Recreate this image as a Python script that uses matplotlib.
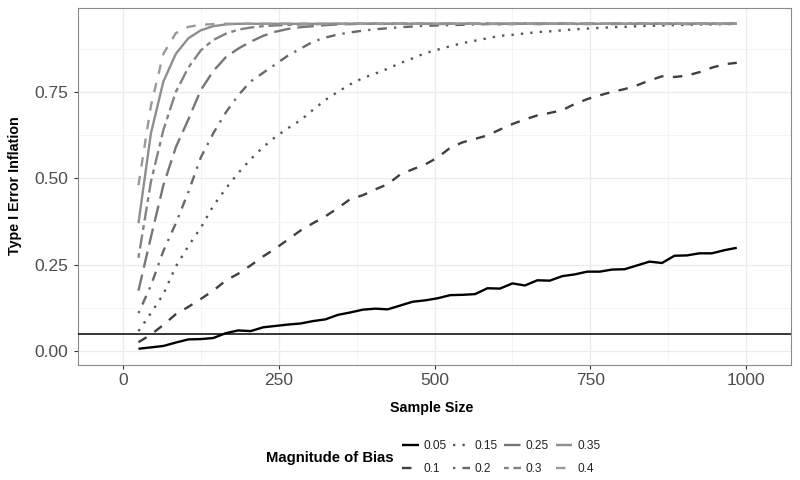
import matplotlib
matplotlib.use('Agg')
import matplotlib.pyplot as plt

plt.rcParams['font.family'] = ['Liberation Sans', 'DejaVu Sans']

sample_size = [25, 45, 65, 85, 105, 125, 145, 165, 185, 205,
               225, 245, 265, 285, 305, 325, 345, 365, 385, 405,
               425, 445, 465, 485, 505, 525, 545, 565, 585, 605,
               625, 645, 665, 685, 705, 725, 745, 765, 785, 805,
               825, 845, 865, 885, 905, 925, 945, 965, 985]

bias_labels = ['0.05', '0.1', '0.15', '0.2', '0.25', '0.3', '0.35', '0.4']

err_005 = [0.007, 0.011, 0.015, 0.025, 0.034, 0.035, 0.038, 0.052, 0.060, 0.058,
           0.069, 0.073, 0.077, 0.080, 0.087, 0.092, 0.105, 0.112, 0.120, 0.123,
           0.121, 0.132, 0.143, 0.147, 0.153, 0.162, 0.163, 0.165, 0.182, 0.181,
           0.196, 0.190, 0.205, 0.204, 0.217, 0.222, 0.230, 0.230, 0.236, 0.237,
           0.248, 0.259, 0.255, 0.276, 0.277, 0.283, 0.283, 0.292, 0.299]
err_010 = [0.026, 0.048, 0.076, 0.107, 0.128, 0.151, 0.175, 0.204, 0.224, 0.248,
           0.274, 0.297, 0.323, 0.349, 0.370, 0.390, 0.414, 0.440, 0.451, 0.468,
           0.483, 0.511, 0.526, 0.540, 0.560, 0.588, 0.604, 0.614, 0.624, 0.641,
           0.657, 0.670, 0.682, 0.689, 0.697, 0.715, 0.729, 0.740, 0.750, 0.758,
           0.769, 0.783, 0.795, 0.793, 0.797, 0.807, 0.820, 0.830, 0.834]
err_015 = [0.058, 0.110, 0.165, 0.245, 0.304, 0.357, 0.420, 0.470, 0.515, 0.555,
           0.590, 0.620, 0.645, 0.668, 0.698, 0.727, 0.750, 0.772, 0.790, 0.803,
           0.817, 0.833, 0.847, 0.862, 0.872, 0.882, 0.891, 0.898, 0.905, 0.912,
           0.915, 0.919, 0.923, 0.925, 0.928, 0.931, 0.933, 0.935, 0.937, 0.938,
           0.940, 0.941, 0.942, 0.943, 0.944, 0.945, 0.945, 0.946, 0.946]
err_020 = [0.110, 0.190, 0.290, 0.370, 0.460, 0.560, 0.630, 0.690, 0.740, 0.780,
           0.805, 0.830, 0.855, 0.875, 0.895, 0.907, 0.916, 0.922, 0.927, 0.931,
           0.934, 0.937, 0.939, 0.941, 0.942, 0.943, 0.944, 0.945, 0.946, 0.946,
           0.946, 0.947, 0.946, 0.947, 0.947, 0.946, 0.947, 0.947, 0.946, 0.947,
           0.947, 0.947, 0.946, 0.947, 0.947, 0.947, 0.946, 0.947, 0.947]
err_025 = [0.175, 0.330, 0.480, 0.590, 0.670, 0.755, 0.810, 0.850, 0.875, 0.895,
           0.912, 0.924, 0.932, 0.937, 0.940, 0.943, 0.945, 0.946, 0.947, 0.947,
           0.946, 0.947, 0.947, 0.947, 0.946, 0.947, 0.947, 0.947, 0.947, 0.946,
           0.947, 0.947, 0.947, 0.947, 0.947, 0.947, 0.946, 0.947, 0.947, 0.947,
           0.947, 0.947, 0.947, 0.947, 0.946, 0.947, 0.947, 0.947, 0.947]
err_030 = [0.270, 0.490, 0.640, 0.750, 0.820, 0.870, 0.900, 0.918, 0.930, 0.936,
           0.940, 0.942, 0.944, 0.945, 0.946, 0.946, 0.947, 0.947, 0.947, 0.947,
           0.947, 0.947, 0.947, 0.947, 0.947, 0.947, 0.947, 0.947, 0.947, 0.947,
           0.947, 0.947, 0.947, 0.947, 0.947, 0.947, 0.947, 0.947, 0.947, 0.947,
           0.947, 0.947, 0.947, 0.947, 0.947, 0.947, 0.947, 0.947, 0.947]
err_035 = [0.370, 0.630, 0.780, 0.860, 0.905, 0.928, 0.940, 0.945, 0.947, 0.947,
           0.947, 0.947, 0.947, 0.947, 0.947, 0.947, 0.947, 0.947, 0.947, 0.947,
           0.947, 0.947, 0.947, 0.947, 0.947, 0.947, 0.947, 0.947, 0.947, 0.947,
           0.947, 0.947, 0.947, 0.947, 0.947, 0.947, 0.947, 0.947, 0.947, 0.947,
           0.947, 0.947, 0.947, 0.947, 0.947, 0.947, 0.947, 0.947, 0.947]
err_040 = [0.480, 0.710, 0.860, 0.920, 0.938, 0.944, 0.946, 0.947, 0.947, 0.947,
           0.947, 0.947, 0.947, 0.947, 0.947, 0.947, 0.947, 0.947, 0.947, 0.947,
           0.947, 0.947, 0.947, 0.947, 0.947, 0.947, 0.947, 0.947, 0.947, 0.947,
           0.947, 0.947, 0.947, 0.947, 0.947, 0.947, 0.947, 0.947, 0.947, 0.947,
           0.947, 0.947, 0.947, 0.947, 0.947, 0.947, 0.947, 0.947, 0.947]

series = [err_005, err_010, err_015, err_020, err_025, err_030, err_035, err_040]
line_colors = ['#000000', '#3F3F3F', '#575757', '#686868',
               '#767676', '#838383', '#8E8E8E', '#999999']
line_dashes = [None, (4, 4), (1, 3), (1, 3, 4, 3), (7, 3), (2, 2, 6, 2), None, (4, 4)]
reference_level = 0.05

fig = plt.figure(figsize=(8, 4.8), dpi=100)
ax = fig.add_axes([78 / 800, 1 - 365 / 480, (791 - 78) / 800, (365 - 7.5) / 480])

handles = []
for lbl, ys, col, dsh in zip(bias_labels, series, line_colors, line_dashes):
    ln, = ax.plot(sample_size, ys, color=col, lw=1.7, label=lbl,
                  solid_capstyle='butt', dash_capstyle='butt', solid_joinstyle='round')
    if dsh is not None:
        ln.set_dashes(dsh)
    handles.append(ln)

ax.axhline(reference_level, color='black', lw=1.1, zorder=5)

ax.set_xlim(-72, 1072)
ax.set_ylim(-0.040, 0.994)
ax.set_xticks([0, 250, 500, 750, 1000])
ax.set_xticklabels(['0', '250', '500', '750', '1000'])
ax.set_xticks([125, 375, 625, 875], minor=True)
ax.set_yticks([0, 0.25, 0.5, 0.75])
ax.set_yticklabels(['0.00', '0.25', '0.50', '0.75'])
ax.set_yticks([0.125, 0.375, 0.625, 0.875], minor=True)
ax.grid(which='major', color='#EBEBEB', lw=0.9)
ax.grid(which='minor', color='#F3F3F3', lw=0.6)
ax.set_axisbelow(True)
ax.tick_params(which='minor', length=0)
ax.tick_params(which='major', length=3, width=0.8, color='#333333',
               labelsize=12.5, labelcolor='#4D4D4D')
ax.tick_params(axis='x', which='major', pad=3)
ax.tick_params(axis='y', which='major', pad=4)
for sp in ax.spines.values():
    sp.set_color('#8A8A8A')
    sp.set_linewidth(0.8)

fig.text(432 / 800, 1 - 408 / 480, 'Sample Size', ha='center', va='center',
         fontsize=10.3, fontweight='bold')
fig.text(15 / 800, 1 - 186 / 480, 'Type I Error Inflation', ha='center', va='center',
         rotation=90, fontsize=10.3, fontweight='bold')

fig.text(266 / 800, 1 - 458 / 480, 'Magnitude of Bias', ha='left', va='center',
         fontsize=10.7, fontweight='bold')
fig.legend(handles=handles, labels=bias_labels, ncol=4, loc='center left',
           bbox_to_anchor=(402 / 800, 1 - 457.7 / 480), frameon=False,
           fontsize=8.6, handlelength=1.4, handletextpad=0.4, columnspacing=0.55,
           labelspacing=0.95, borderpad=0, borderaxespad=0, labelcolor='#222222')

fig.savefig('out.png', dpi=100)
